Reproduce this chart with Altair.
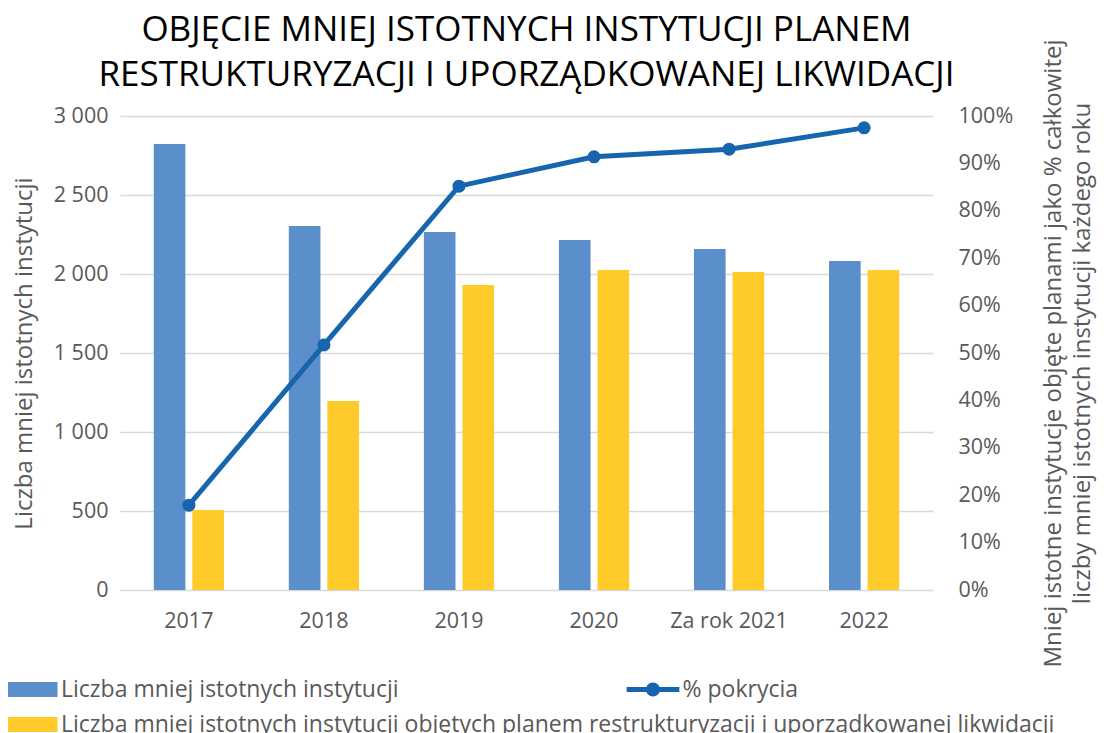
import altair as alt
import pandas as pd

years = ["2017", "2018", "2019", "2020", "Za rok 2021", "2022"]
total = [2823, 2304, 2266, 2215, 2158, 2082]
covered = [506, 1196, 1930, 2025, 2013, 2025]
coverage = [0.179, 0.517, 0.852, 0.914, 0.930, 0.975]

s1 = "Liczba mniej istotnych instytucji"
s2 = "Liczba mniej istotnych instytucji objętych planem restrukturyzacji i uporządkowanej likwidacji"
s3 = "% pokrycia"

left_ticks = [0, 500, 1000, 1500, 2000, 2500, 3000]
right_ticks = [0, 0.1, 0.2, 0.3, 0.4, 0.5, 0.6, 0.7, 0.8, 0.9, 1.0]

title_lines = ["OBJĘCIE MNIEJ ISTOTNYCH INSTYTUCJI PLANEM",
               "RESTRUKTURYZACJI I UPORZĄDKOWANEJ LIKWIDACJI"]
right_title = ["Mniej istotne instytucje objęte planami jako % całkowitej",
               "liczby mniej istotnych instytucji każdego roku"]

bars_df = pd.DataFrame({
    "rok": years * 2,
    "seria": [s1] * len(years) + [s2] * len(years),
    "wartosc": total + covered,
})
line_df = pd.DataFrame({"rok": years, "pokrycie": coverage, "seria": [s3] * len(years)})

FONT = "Open Sans"
BLUE = "#5B8FCB"
YELLOW = "#FECB2A"
LINE = "#1764AF"
GRAY = "#595959"

W, H = 813, 474
TICK_FS = 21.5
LEG_FS = 23
AX_TITLE_FS = 24

x = alt.X("rok:N", sort=years, title=None,
          scale=alt.Scale(paddingInner=0.48, paddingOuter=0.25),
          axis=alt.Axis(labelAngle=0, ticks=False, domain=False, labelFontSize=TICK_FS,
                        labelColor=GRAY, labelPadding=20, labelFont=FONT))

rect_path = "M-3,-0.88 L3,-0.88 L3,0.88 L-3,0.88 Z"
line_path = ("M-3.1,-0.3 L3.1,-0.3 L3.1,0.3 L-3.1,0.3 Z "
             "M-0.82,0 A0.82,0.82 0 1,1 0.82,0 A0.82,0.82 0 1,1 -0.82,0 Z")

bars = alt.Chart(bars_df).mark_bar().encode(
    x=x,
    xOffset=alt.XOffset("seria:N", sort=[s1, s2],
                        scale=alt.Scale(paddingInner=0.18, paddingOuter=0)),
    y=alt.Y("wartosc:Q", scale=alt.Scale(domain=[0, 3000], nice=False),
            axis=alt.Axis(values=left_ticks,
                          labelExpr="replace(format(datum.value, ','), ',', ' ')",
                          title=s1, grid=True, gridColor="#d9d9d9", gridWidth=1.5,
                          ticks=False, domain=False, labelPadding=12,
                          labelFontSize=TICK_FS, labelColor=GRAY, labelFont=FONT,
                          titleFont=FONT, titleFontSize=AX_TITLE_FS, titleColor=GRAY,
                          titleFontWeight="normal", titleX=-96, titleY=H / 2,
                          titleAngle=270, titleAlign="center", titleBaseline="middle")),
    color=alt.Color("seria:N", sort=[s1, s2],
                    scale=alt.Scale(domain=[s1, s2], range=[BLUE, YELLOW]),
                    legend=alt.Legend(orient="none", legendX=-99.5, legendY=562,
                                      direction="vertical", title=None,
                                      symbolType=rect_path, symbolSize=289,
                                      symbolStrokeWidth=0, labelFontSize=LEG_FS,
                                      labelFont=FONT, labelColor=GRAY,
                                      labelOffset=17.5, rowPadding=11, labelLimit=1200)),
)

yr = alt.Scale(domain=[0, 1], nice=False)

line = alt.Chart(line_df).mark_line(color=LINE, strokeWidth=5).encode(
    x=x,
    y=alt.Y("pokrycie:Q", scale=yr,
            axis=alt.Axis(orient="right", format=".0%", values=right_ticks, grid=False,
                          ticks=False, domain=False, labelPadding=25,
                          labelFontSize=TICK_FS, labelColor=GRAY, labelFont=FONT,
                          title=right_title, titleFont=FONT, titleFontSize=AX_TITLE_FS,
                          titleColor=GRAY, titleFontWeight="normal",
                          titleX=120, titleY=H / 2, titleAngle=270,
                          titleAlign="center", titleBaseline="middle",
                          titleLineHeight=29)),
)

points = alt.Chart(line_df).mark_circle(size=170, opacity=1).encode(
    x=x,
    y=alt.Y("pokrycie:Q", scale=yr, axis=None),
    color=alt.Color("seria:N", scale=alt.Scale(domain=[s3], range=[LINE]),
                    legend=alt.Legend(orient="none", legendX=521.5, legendY=562,
                                      title=None, symbolType=line_path, symbolSize=289,
                                      symbolStrokeWidth=0, labelFontSize=LEG_FS,
                                      labelFont=FONT, labelColor=GRAY,
                                      labelOffset=18, labelLimit=600)),
)

chart = alt.layer(bars, line, points).resolve_scale(
    y="independent", color="independent"
).properties(
    width=W, height=H,
    title=alt.Title(title_lines, fontSize=35, font=FONT, fontWeight="normal",
                    color="#000000", anchor="middle", lineHeight=45, dy=58),
    padding={"left": 112, "top": 108, "right": 165, "bottom": 143},
    autosize=alt.AutoSizeParams(type="none"),
).configure_view(stroke=None)

chart.save("out.html", embed_options={"renderer": "svg", "actions": False})
